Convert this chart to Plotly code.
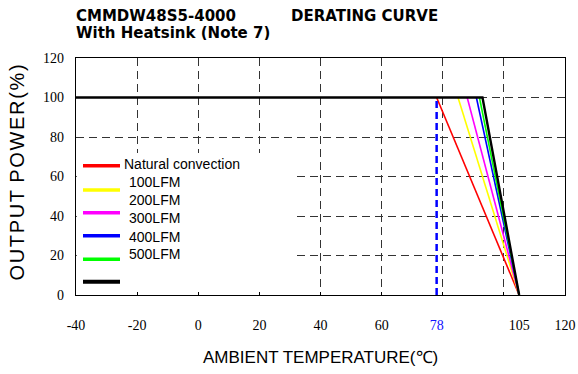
import plotly.graph_objects as go

# ---- data ----
series_names = ["Natural convection", "100LFM", "200LFM", "300LFM", "400LFM", "500LFM"]
series_colors = ["#ff0000", "#ffff00", "#ff00ff", "#0000ff", "#00ff00", "#000000"]
derate_start = [78, 85, 88, 91, 92, 93]      # temperature where derating begins (100%)
derate_end = [105, 105, 105, 105, 105, 105]  # temperature where power reaches 0%
full_power = 100
zero_power = 0
x_min, x_max = -40, 120
y_ticks = [0, 20, 40, 60, 80, 100, 120]
x_tick_vals = [-40, -20, 0, 20, 40, 60, 78, 105, 120]
x_tick_text = ["-40", "-20", "0", "20", "40", "60", "<span style='color:#1010ff'>78</span>", "105", "120"]
x_grid_vals = [-20, 0, 20, 40, 60, 80, 100]

W, H = 578, 374
L, T = 76, 58
R = W - 565
B = H - 295
PW, PH = W - L - R, H - T - B


def px(xs):
    """screen x (reference pixel) -> paper"""
    return (xs - L) / PW


def py(ys):
    """screen y (reference pixel) -> paper"""
    return (H - B - ys) / PH


fig = go.Figure()

# coloured derating slopes
for name, col, s, e in zip(series_names[:-1], series_colors[:-1], derate_start[:-1], derate_end[:-1]):
    fig.add_trace(go.Scatter(x=[s, e], y=[full_power, zero_power], mode="lines",
                             line=dict(color=col, width=1.6), name=name, showlegend=False))

# black curve with the full-power plateau
fig.add_trace(go.Scatter(x=[x_min, derate_start[-1], derate_end[-1]],
                         y=[full_power, full_power, zero_power], mode="lines",
                         line=dict(color="#000000", width=2.4), name=series_names[-1], showlegend=False))

# blue dashed marker at 78 C
fig.add_trace(go.Scatter(x=[derate_start[0], derate_start[0]], y=[zero_power, full_power], mode="lines",
                         line=dict(color="#0000ff", width=2.5, dash="7px,4px"), showlegend=False))

shapes = []
# white legend panel
shapes.append(dict(type="rect", xref="paper", yref="paper", x0=px(76.8), x1=px(293), y0=py(292), y1=py(153),
                   fillcolor="white", line=dict(width=0), layer="above"))
line_y = [165.7, 190, 212.8, 235.7, 259.3, 281.7]
for col, ly in zip(series_colors, line_y):
    shapes.append(dict(type="line", xref="paper", yref="paper", x0=px(83), x1=px(120), y0=py(ly), y1=py(ly),
                       line=dict(color=col, width=3.5 if col != "#000000" else 4), layer="above"))

annotations = []
label_y = [163.5, 181.7, 200, 217.5, 237, 253.8]
label_x = [121.7, 126.7, 126.7, 126.7, 126.7, 126.7]
for name, lx, ly in zip(series_names, label_x, label_y):
    annotations.append(dict(text=name, xref="paper", yref="paper", x=px(lx), y=py(ly), xanchor="left",
                            yanchor="middle", showarrow=False,
                            font=dict(family="Liberation Sans, Arial", size=14, color="black")))

# titles
TF = dict(family="DejaVu Sans, Liberation Sans, Arial", size=15, color="black")
annotations.append(dict(text="<b>CMMDW48S5-4000</b>", xref="paper", yref="paper", x=px(74), y=py(15.5),
                        xanchor="left", yanchor="middle", showarrow=False, font=TF, height=15))
annotations.append(dict(text="<b>DERATING CURVE</b>", xref="paper", yref="paper", x=px(289), y=py(15.5),
                        xanchor="left", yanchor="middle", showarrow=False, font=TF, height=15))
annotations.append(dict(text="<b>With Heatsink (Note 7)</b>", xref="paper", yref="paper", x=px(74), y=py(33),
                        xanchor="left", yanchor="middle", showarrow=False, font=TF, height=15))

# axis titles
annotations.append(dict(text="O\u200aU\u200aT\u200aP\u200aU\u200aT\u200a P\u200aO\u200aW\u200aE\u200aR\u200a(\u200a%\u200a)",
                        xref="paper", yref="paper", x=px(16), y=py(172.5), textangle=-90,
                        xanchor="center", yanchor="middle", showarrow=False,
                        font=dict(family="Liberation Sans, Arial", size=20, color="black")))
annotations.append(dict(text="AMBIENT TEMPERATURE(\u2103)", xref="paper", yref="paper", x=px(320), y=py(357),
                        xanchor="center", yanchor="middle", showarrow=False,
                        font=dict(family="Liberation Sans, Arial", size=17, color="black")))

fig.update_layout(
    width=W, height=H,
    margin=dict(l=L, r=R, t=T, b=B, pad=0),
    paper_bgcolor="white", plot_bgcolor="white",
    shapes=shapes, annotations=annotations,
    showlegend=False,
)

fig.update_xaxes(
    automargin=False,
    range=[x_min, x_max], tickmode="array", tickvals=x_tick_vals, ticktext=x_tick_text,
    showgrid=False, zeroline=False, showline=True, linecolor="black", linewidth=1.3, mirror=True,
    ticks="", ticklabelstandoff=17,
    tickfont=dict(family="Liberation Serif, Times New Roman", size=14, color="black"),
    minor=dict(tickmode="array", tickvals=x_grid_vals, showgrid=True, gridcolor="#333333", gridwidth=1,
               griddash="8px,5px", ticks="inside", ticklen=3, tickcolor="black"),
)
fig.update_yaxes(
    automargin=False,
    range=[0, 120], tickmode="array", tickvals=y_ticks,
    showgrid=True, gridcolor="#333333", gridwidth=1, griddash="8px,5px",
    zeroline=False, showline=True, linecolor="black", linewidth=1.3, mirror=True,
    ticks="", ticklabelstandoff=8,
    tickfont=dict(family="Liberation Serif, Times New Roman", size=14, color="black"),
)

fig.write_html("out.html", config={"displayModeBar": False},
               post_script="document.body.style.margin='0';document.body.style.overflow='hidden';")
